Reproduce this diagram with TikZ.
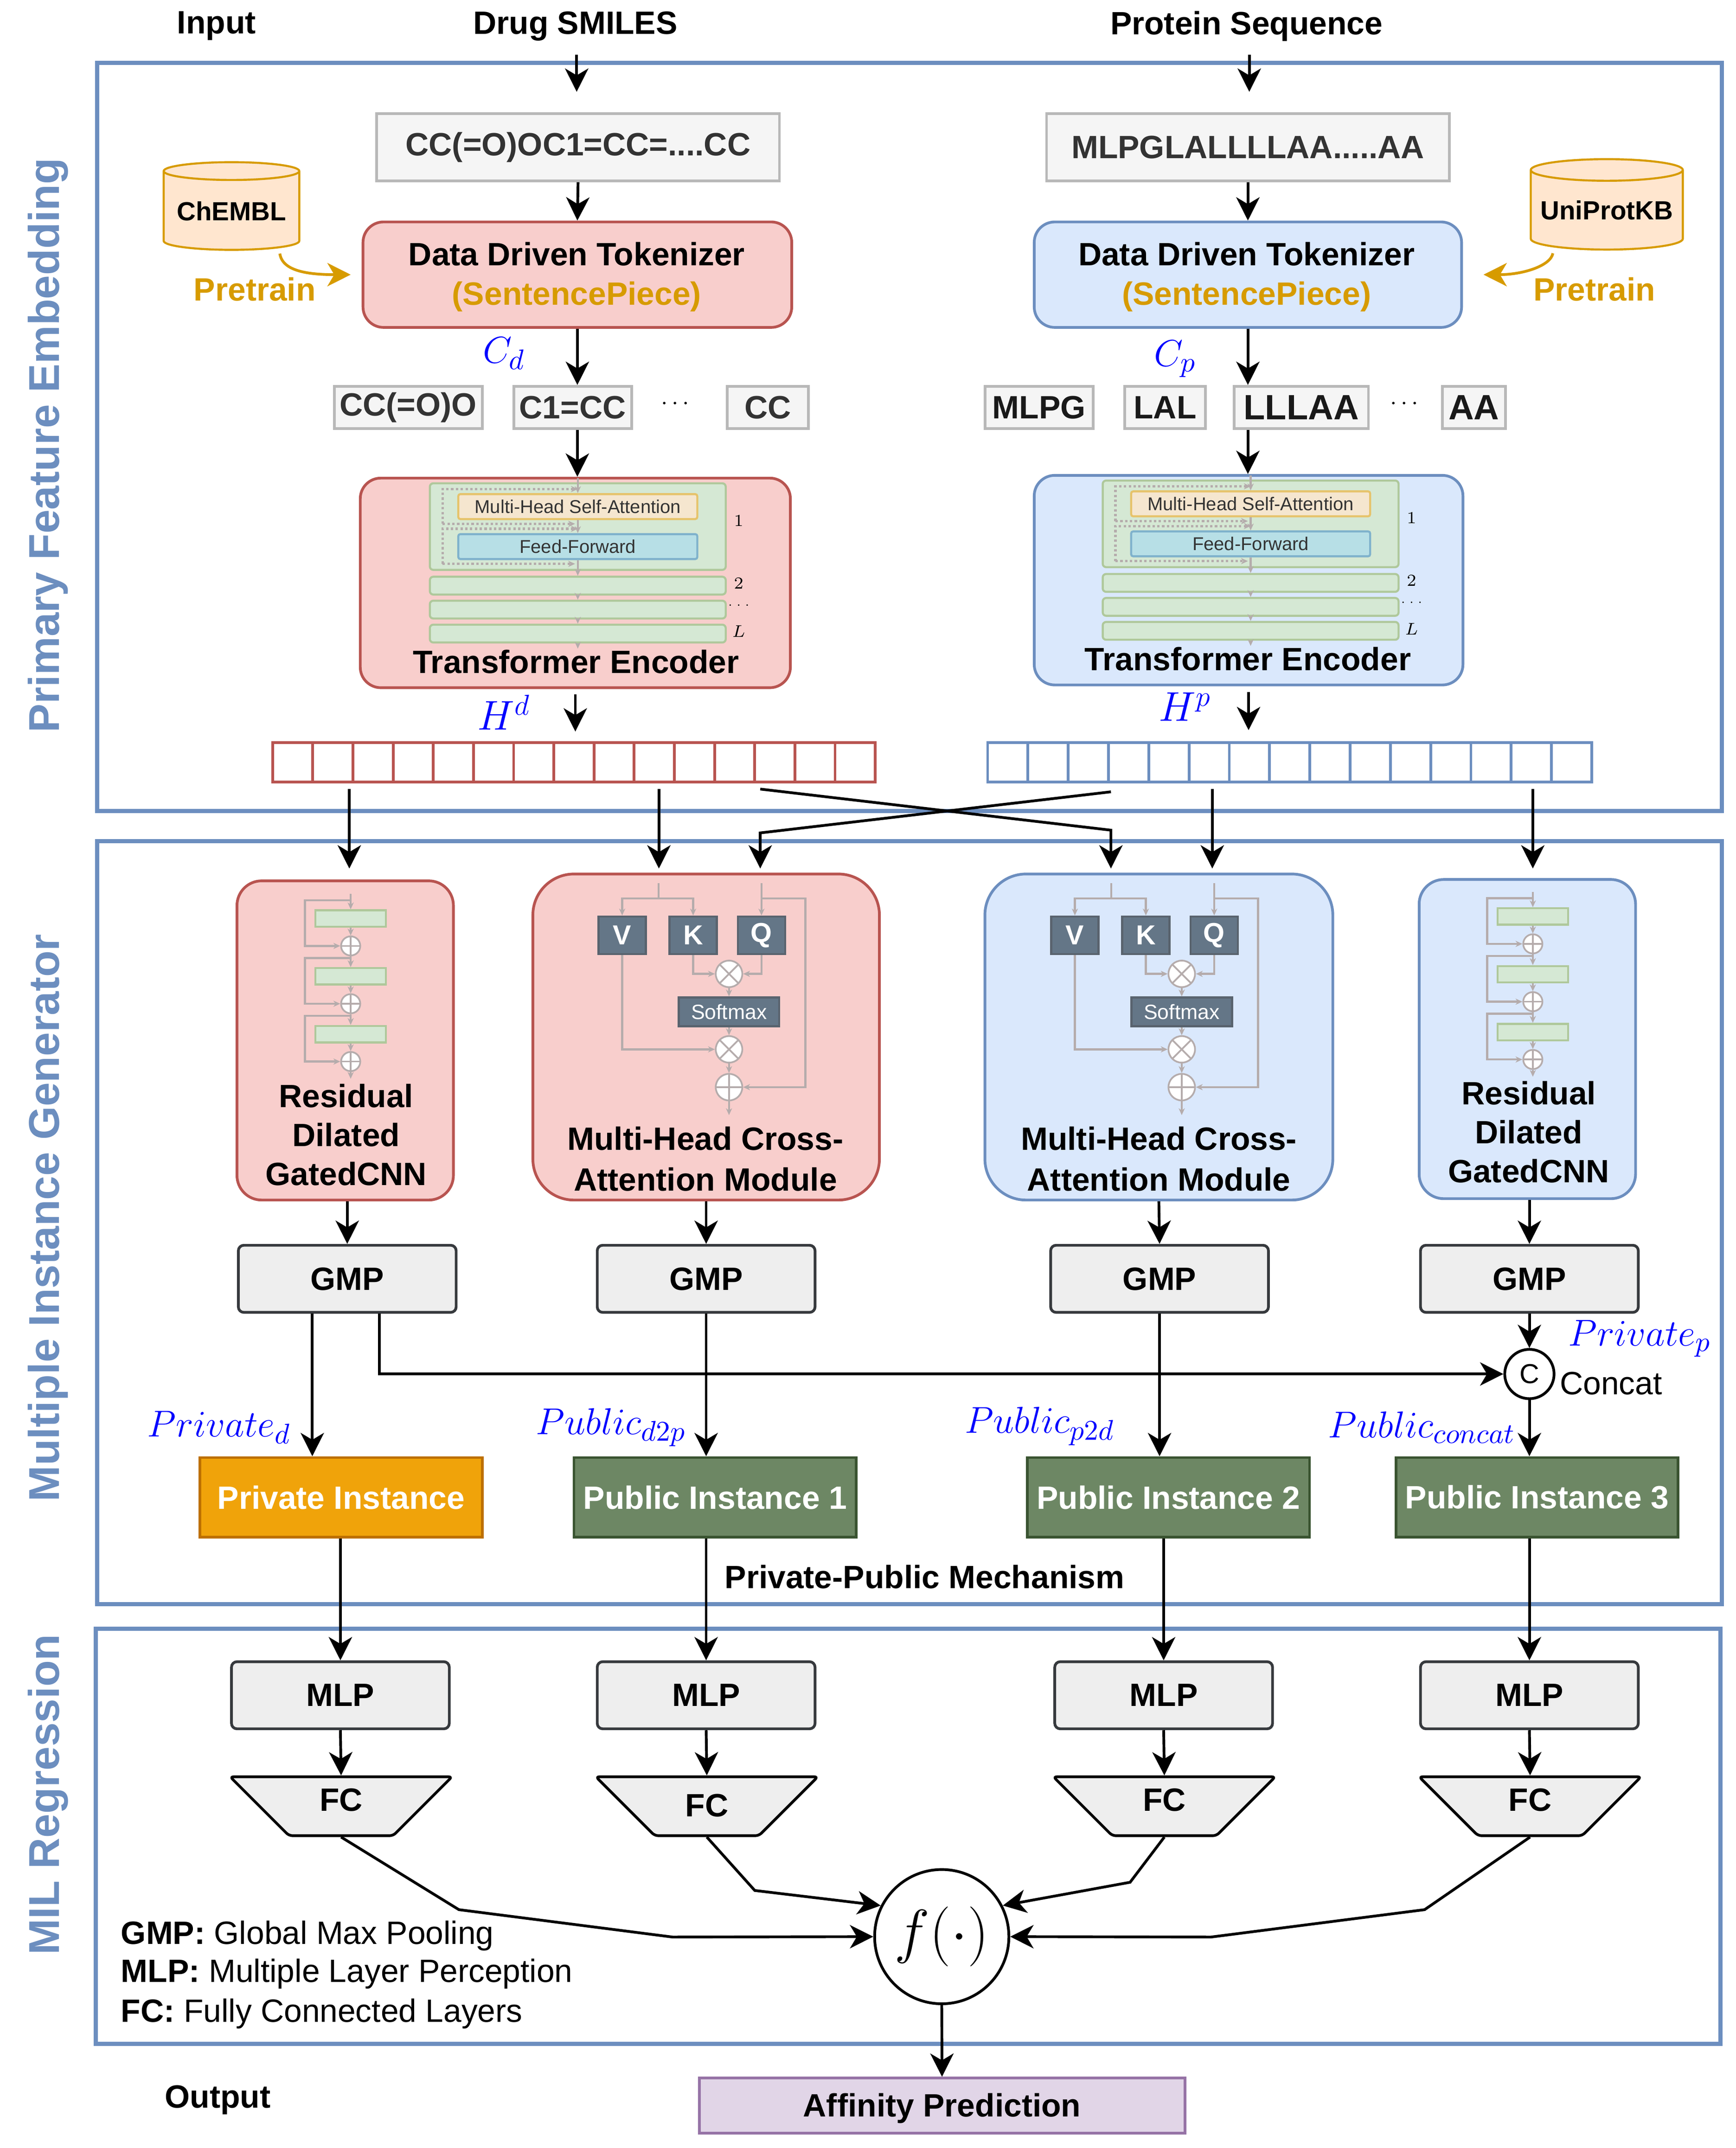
\documentclass[tikz,border=0pt]{standalone}
\usepackage{fontspec}
\setmainfont{Liberation Sans}
\usetikzlibrary{arrows.meta,shapes.geometric}
\newdimen\un \un=0.02cm
\newcommand{\symb}[1]{\scalebox{1.08}{$#1$}}
\definecolor{redF}{HTML}{F8CECC}\definecolor{redD}{HTML}{B85450}
\definecolor{bluF}{HTML}{DAE8FC}\definecolor{bluD}{HTML}{6C8EBF}
\definecolor{orF}{HTML}{FFE6CF}\definecolor{orD}{HTML}{D79B00}
\definecolor{gryF}{HTML}{EEEEEE}\definecolor{gryD}{HTML}{36393D}
\definecolor{tokF}{HTML}{F5F5F5}\definecolor{tokD}{HTML}{B8B8B8}
\definecolor{slateF}{HTML}{647687}\definecolor{slateD}{HTML}{314354}
\definecolor{pubF}{HTML}{6D8764}\definecolor{pubD}{HTML}{3A5431}
\definecolor{priF}{HTML}{F0A30A}\definecolor{priD}{HTML}{BD7000}
\definecolor{affF}{HTML}{E1D5E7}\definecolor{affD}{HTML}{9673A6}
\definecolor{layF}{HTML}{D5E8D4}\definecolor{layD}{HTML}{AFC89B}
\definecolor{msaF}{HTML}{F5E6CF}\definecolor{msaD}{HTML}{E6C36B}
\definecolor{ffF}{HTML}{B7DFE6}\definecolor{ffD}{HTML}{7FB2CC}
\definecolor{inLn}{HTML}{B5ACAC}
\tikzset{
	lbl/.style={font=\bfseries\fontsize{13.4}{16.8}\selectfont, align=center, text=black, inner sep=0pt},
	thin lbl/.style={font=\fontsize{13.4}{16.8}\selectfont, inner sep=0pt, align=left},
	sym/.style={font=\fontsize{15}{18}\selectfont, text=blue, inner sep=0pt},
	side/.style={font=\bfseries\fontsize{17.9}{20}\selectfont, text=bluD, rotate=90, inner sep=0pt},
	panel/.style={draw=bluD, line width=0.06cm},
	arr/.style={-{Stealth[length=0.34cm,width=0.34cm,inset=0.1cm]}, line width=0.04cm, black},
	arrOr/.style={draw=orD, line width=0.04cm, -{Stealth[length=0.34cm,width=0.34cm,inset=0.1cm,orD]}},
	seq/.style={lbl, draw=tokD, fill=tokF, line width=0.04cm, text=black!80, minimum height=49\un},
	tok/.style={seq, minimum height=31\un},
	tokB/.style={tok, text=black!90},
	blk/.style={rounded corners=0.3cm, line width=0.04cm},
	redB/.style={blk, draw=redD, fill=redF},
	bluB/.style={blk, draw=bluD, fill=bluF},
	gmp/.style={lbl, draw=gryD, fill=gryF, line width=0.04cm, rounded corners=0.08cm, minimum width=159\un, minimum height=49\un},
	fc/.style={lbl, trapezium, trapezium left angle=135, trapezium right angle=135, trapezium stretches body=true, draw=black, fill=gryF, line width=0.04cm, rounded corners=0.05cm, minimum width=162\un, text height=25\un, text depth=18\un},
	fcLow/.style={fc, text height=29\un, text depth=14\un},
	inst/.style={lbl, text=white, line width=0.04cm, minimum width=206\un, minimum height=58\un},
	pri/.style={inst, draw=priD, fill=priF},
	pub/.style={inst, draw=pubD, fill=pubF},
	store/.style={lbl, cylinder, shape border rotate=90, aspect=0.163, draw=orD, fill=orF, cylinder uses custom fill, cylinder body fill=orF, cylinder end fill=orF, line width=0.03cm, font=\bfseries\fontsize{10.9}{14}\selectfont},
	inln/.style={draw=inLn, line width=0.03cm, -{Stealth[length=0.1cm,width=0.09cm,inLn]}},
	inpl/.style={draw=inLn, line width=0.03cm},
	dotl/.style={draw=inLn, line width=0.035cm, densely dotted, -{Stealth[length=0.1cm,width=0.09cm,inLn]}},
	lay/.style={draw=layD, fill=layF, line width=0.03cm, rounded corners=0.05cm, inner sep=0pt},
	oplus/.style={circle, draw=inLn, fill=white, line width=0.025cm, inner sep=0pt, path picture={\draw[inLn, line width=0.025cm] (path picture bounding box.west) -- (path picture bounding box.east) (path picture bounding box.north) -- (path picture bounding box.south);}},
	otimes/.style={circle, draw=inLn, fill=white, line width=0.025cm, inner sep=0pt, path picture={\draw[inLn, line width=0.025cm] (path picture bounding box.north west) -- (path picture bounding box.south east) (path picture bounding box.north east) -- (path picture bounding box.south west);}},
	slate/.style={draw=slateD!70!inLn, fill=slateF, line width=0.03cm, text=white, font=\bfseries\fontsize{11.4}{14}\selectfont, inner sep=0pt, minimum width=34.6\un, minimum height=27.4\un},
	encoder/.pic={
		\node[lay, minimum width=216\un, minimum height=63.2\un] (big) at (0,35.4) {};
		\node[draw=msaD, fill=msaF, line width=0.03cm, rounded corners=0.03cm, inner sep=0pt, minimum width=174.5\un, minimum height=18.2\un, font=\fontsize{7.7}{9}\selectfont, text=black!80] (msa) at (0,20.8) {Multi-Head Self-Attention};
		\node[draw=ffD, fill=ffF, line width=0.03cm, rounded corners=0.03cm, inner sep=0pt, minimum width=174.5\un, minimum height=18.2\un, font=\fontsize{7.7}{9}\selectfont, text=black!80] (ff) at (0,50) {Feed-Forward};
		\node[lay, minimum width=216\un, minimum height=13\un] (layB) at (0,78.5) {};
		\node[lay, minimum width=216\un, minimum height=13\un] (layC) at (0,96) {};
		\node[lay, minimum width=216\un, minimum height=13\un] (layD) at (0,113.5) {};
		\node[font=\fontsize{7}{8}\selectfont, inner sep=0pt] (numA) at (117.5,31) {$1$};
		\node[font=\fontsize{7}{8}\selectfont, inner sep=0pt] (numB) at (117.5,77) {$2$};
		\node[font=\fontsize{5}{6}\selectfont, inner sep=0pt] (numC) at (117.5,93) {$\cdots$};
		\node[font=\fontsize{7}{8}\selectfont, inner sep=0pt] (numD) at (117.5,112) {$L$};
		\coordinate (in) at (0,0);
		\coordinate (out) at (0,124.5);
		\draw[inln] (in) -- (msa);
		\draw[inln] (msa) -- (ff);
		\draw[inln] (ff) -- (layB);
		\draw[inln] (layB) -- (layC);
		\draw[inln] (layC) -- (layD);
		\draw[inln] (layD) -- (out);
		\draw[dotl] (-98.7,33.4) -- (-98.7,8) -- (0,8);
		\draw[dotl] (-98.7,33.4) -- (-2,33.4);
		\draw[dotl] (-98.7,62.6) -- (-98.7,37) -- (0,37);
		\draw[dotl] (-98.7,62.6) -- (-2,62.6);
	},
	rescnn/.pic={
		\foreach \k in {0,1,2}{
			\begin{scope}[shift={(0,{42.2*\k})}]
				\node[draw=layD, fill=layF, line width=0.03cm, inner sep=0pt, minimum width=51.5\un, minimum height=12\un] (cnn\k) at (0,18) {};
				\node[oplus, minimum size=14\un] (add\k) at (0,38) {};
				\coordinate (tap\k) at (0,4.6);
				\draw[inln] (cnn\k) -- (add\k);
				\draw[inln] (tap\k) -- ++(-33.4,0) |- (add\k);
			\end{scope}
		}
		\coordinate (in) at (0,0);
		\coordinate (out) at (0,135);
		\draw[inln] (in) -- (cnn0);
		\draw[inln] (add0) -- (cnn1);
		\draw[inln] (add1) -- (cnn2);
		\draw[inln] (add2) -- (out);
	},
	crossatt/.pic={
		\node[slate] (v) at (-26.5,38.1) {V};
		\node[slate] (k) at (25.3,38.1) {K};
		\node[slate] (q) at (75.2,38.1) {Q};
		\node[otimes, minimum size=19.4\un] (mulA) at (51.5,66.3) {};
		\node[slate, minimum width=73.4\un, minimum height=21\un, font=\fontsize{8.6}{10}\selectfont] (soft) at (51.5,94) {Softmax};
		\node[otimes, minimum size=19.4\un] (mulB) at (51.5,121.4) {};
		\node[oplus, minimum size=19.4\un] (add) at (51.5,149) {};
		\coordinate (inA) at (0,0);
		\coordinate (inB) at (75.2,0);
		\coordinate (out) at (51.5,169.4);
		\draw[inpl] (inA) -- (0,11.3);
		\draw[inln] (0,11.3) -| (v);
		\draw[inln] (0,11.3) -| (k);
		\draw[inln] (inB) -- (q);
		\draw[inln] (75.2,11.3) -- (107.2,11.3) |- (add);
		\draw[inln] (k) |- (mulA);
		\draw[inln] (q) |- (mulA);
		\draw[inln] (mulA) -- (soft);
		\draw[inln] (soft) -- (mulB);
		\draw[inln] (v) |- (mulB);
		\draw[inln] (mulB) -- (add);
		\draw[inln] (add) -- (out);
	}
}
\begin{document}
\begin{tikzpicture}[x=0.02cm, y=-0.02cm]
	\useasboundingbox (0,0) rectangle (1267,1568);
	%
	\node[lbl] (input) at (158,19) {Input};
	\node[lbl] (drug) at (420,19) {Drug SMILES};
	\node[lbl] (prot) at (910,19) {Protein Sequence};
	\node[lbl] (output) at (159,1533) {Output};
	\draw[panel] (71,46) rectangle (1257,592);
	\draw[panel] (71,614) rectangle (1257,1171);
	\draw[panel] (70,1189) rectangle (1256,1492);
	\node[side] (sideA) at (35,325) {Primary Feature Embedding};
	\node[side] (sideB) at (35,889) {Multiple Instance Generator};
	\node[side] (sideC) at (35,1310) {MIL Regression};
	%
	\node[seq, minimum width=294\un] (smiles) at (422,107.5) {CC(=O)OC1=CC=....CC};
	\node[seq, minimum width=294\un] (seqP) at (911,107.5) {MLPGLALLLLAA.....AA};
	\node[redB, minimum width=313\un, minimum height=77\un] (tokrD) at (421.5,200.5) {};
	\node[bluB, minimum width=312\un, minimum height=77\un] (tokrP) at (911,200.5) {};
	\node[lbl, font=\bfseries\fontsize{13.4}{16.4}\selectfont] (tokrDt) at (421,202) {Data Driven Tokenizer\\\textcolor{orD}{(SentencePiece)}};
	\node[lbl, font=\bfseries\fontsize{13.4}{16.4}\selectfont] (tokrPt) at (910,202) {Data Driven Tokenizer\\\textcolor{orD}{(SentencePiece)}};
	\node[store, minimum width=99\un, minimum height=64\un] (chembl) at (169,154) {ChEMBL};
	\node[store, minimum width=111\un, minimum height=66\un] (uni) at (1173,153.5) {UniProtKB};
	\node[lbl, text=orD] (preA) at (186,211) {Pretrain};
	\node[lbl, text=orD] (preB) at (1164,211) {Pretrain};
	\node[tok, minimum width=108\un] (tA) at (298,297.5) {CC(=O)O};
	\node[tok, minimum width=86\un] (tB) at (418,297.5) {C1=CC};
	\node[inner sep=0pt] (tC) at (493,295) {$\cdots$};
	\node[tok, minimum width=59\un] (tD) at (560.5,297.5) {CC};
	\node[tokB, minimum width=79\un] (pA) at (758.5,297.5) {MLPG};
	\node[tokB, minimum width=59\un] (pB) at (850.5,297.5) {LAL};
	\node[tokB, minimum width=98\un, font=\bfseries\fontsize{14.6}{17}\selectfont] (pC) at (950,297.5) {LLLAA};
	\node[inner sep=0pt] (pD) at (1025,295) {$\cdots$};
	\node[tokB, minimum width=46\un, font=\bfseries\fontsize{14.6}{17}\selectfont] (pE) at (1076,297.5) {AA};
	\node[sym] (cd) at (368,258) {\symb{C_d}};
	\node[sym] (cp) at (858,262) {\symb{C_p}};
	%
	\node[redB, minimum width=314\un, minimum height=153\un] (encD) at (420,425.5) {};
	\node[bluB, minimum width=313\un, minimum height=153\un] (encP) at (911.5,423.5) {};
	\pic (ed) at (421.8,349) {encoder};
	\pic (ep) at (913,347) {encoder};
	\node[lbl] (encDt) at (420.5,483) {Transformer Encoder};
	\node[lbl] (encPt) at (911,481) {Transformer Encoder};
	\node[sym, font=\fontsize{17}{20}\selectfont] (hd) at (368,520) {$H^d$};
	\node[sym, font=\fontsize{17}{20}\selectfont] (hp) at (865,516) {$H^p$};
	\foreach \i in {1,...,15}{
		\node[draw=redD, fill=white, line width=0.04cm, inner sep=0pt, minimum width=29.33\un, minimum height=29\un] (vd\i) at ({199+29.33*(\i-0.5)},556.5) {};
		\node[draw=bluD, fill=white, line width=0.04cm, inner sep=0pt, minimum width=29.4\un, minimum height=29\un] (vp\i) at ({721+29.4*(\i-0.5)},556.5) {};
	}
	%
	\coordinate (inD) at (421,40);
	\coordinate (inP) at (912,40);
	\draw[arr, shorten >=15\un] (inD) -- (inD |- smiles.north);
	\draw[arr, shorten >=15\un] (inP) -- (inP |- seqP.north);
	\draw[arr] (smiles.south) -- (tokrD.north);
	\draw[arr] (seqP.south) -- (tokrP.north);
	\draw[arrOr, shorten <=2\un, shorten >=8\un] ([xshift=35\un]chembl.south) .. controls (206,197) and (222,200.5) .. (tokrD.west);
	\draw[arrOr, shorten <=2\un, shorten >=15\un] ([xshift=-39\un]uni.south) .. controls (1132,194) and (1112,200.5) .. (tokrP.east);
	\draw[arr] (tokrD.south) -- (tokrD.south |- tB.north);
	\draw[arr] (tokrP.south) -- (tokrP.south |- pB.north);
	\draw[arr] (tokrD.south |- tB.south) -- (tokrD.south |- encD.north);
	\draw[arr] (tokrP.south |- pB.south) -- (tokrP.south |- encP.north);
	\draw[arr, shorten <=4\un, shorten >=7\un] (encD.south) -- (encD.south |- vd8.north);
	\draw[arr, shorten <=4\un, shorten >=8\un] (encP.south) -- (encP.south |- vp7.north);
	%
	\node[redB, rounded corners=0.36cm, minimum width=158\un, minimum height=233\un] (resD) at (252,759.5) {};
	\node[redB, rounded corners=0.6cm, minimum width=253\un, minimum height=238\un] (crsD) at (515.5,757) {};
	\node[bluB, rounded corners=0.6cm, minimum width=254\un, minimum height=238\un] (crsP) at (846,757) {};
	\node[bluB, rounded corners=0.36cm, minimum width=158\un, minimum height=233\un] (resP) at (1115,758.5) {};
	\pic (rd) at (256,652.5) {rescnn};
	\pic (rp) at (1119,651) {rescnn};
	\pic (cd) at (480.7,644.6) {crossatt};
	\pic (cp) at (811.2,644.6) {crossatt};
	\node[lbl, font=\bfseries\fontsize{13.4}{16.2}\selectfont] (resDt) at (252.7,828.5) {Residual\\Dilated\\GatedCNN};
	\node[lbl, font=\bfseries\fontsize{13.4}{16.2}\selectfont] (resPt) at (1116,826.5) {Residual\\Dilated\\GatedCNN};
	\node[lbl] (crsDt) at (515,846) {Multi-Head Cross-\\Attention Module};
	\node[lbl] (crsPt) at (846,846) {Multi-Head Cross-\\Attention Module};
	%
	\coordinate (oA) at (255,576); \coordinate (iA) at (255,634);
	\coordinate (oB) at (481,576); \coordinate (iB) at (481,634);
	\coordinate (oC) at (555,576); \coordinate (iC) at (555,634);
	\coordinate (oD) at (811,578); \coordinate (iD) at (811,634);
	\coordinate (oE) at (885,576); \coordinate (iE) at (885,634);
	\coordinate (oF) at (1119,576); \coordinate (iF) at (1119,634);
	\draw[arr] (oA) -- (iA);
	\draw[arr] (oB) -- (iB);
	\draw[arr] (oC) -- (811,606) -- (iD);
	\draw[arr] (oD) -- (555,608) -- (iC);
	\draw[arr] (oE) -- (iE);
	\draw[arr] (oF) -- (iF);
	%
	\node[gmp] (gA) at (253.5,933.5) {GMP};
	\node[gmp] (gB) at (515.5,933.5) {GMP};
	\node[gmp] (gC) at (846.5,933.5) {GMP};
	\node[gmp] (gD) at (1116.5,933.5) {GMP};
	\draw[arr] (gA.north |- resD.south) -- (gA.north);
	\draw[arr] (crsD.south) -- (gB.north);
	\draw[arr] (crsP.south) -- (gC.north);
	\draw[arr] (gD.north |- resP.south) -- (gD.north);
	\node[circle, draw=black, fill=white, line width=0.04cm, inner sep=0pt, minimum size=36\un, font=\fontsize{11.4}{14}\selectfont] (cc) at (1116.5,1003) {C};
	\node[thin lbl] (ccT) at (1176,1010) {Concat};
	\node[pri] (insA) at (249,1093) {Private Instance};
	\node[pub] (insB) at (522,1093) {Public Instance 1};
	\node[pub] (insC) at (853,1093) {Public Instance 2};
	\node[pub] (insD) at (1122,1093) {Public Instance 3};
	\node[lbl] (mech) at (675,1151) {Private-Public Mechanism};
	\draw[arr] ([xshift=-25.5\un]gA.south) -- ([xshift=-21\un]insA.north);
	\draw[arr] ([xshift=23.5\un]gA.south) |- (cc);
	\draw[arr] (gB.south) -- (gB.south |- insB.north);
	\draw[arr] (gC.south) -- (gC.south |- insC.north);
	\draw[arr] (gD.south) -- (cc.north);
	\draw[arr] (cc.south) -- (cc.south |- insD.north);
	\node[sym] (prd) at (160,1042) {\symb{Private_d}};
	\node[sym] (pud) at (446,1042) {\symb{Public_{d2p}}};
	\node[sym] (pup) at (759,1041) {\symb{Public_{p2d}}};
	\node[sym] (puc) at (1038,1042) {\symb{Public_{concat}}};
	\node[sym] (prp) at (1197,977) {\symb{Private_p}};
	%
	\node[gmp] (mA) at (248.5,1237.5) {MLP};
	\node[gmp] (mB) at (515.5,1237.5) {MLP};
	\node[gmp] (mC) at (849.5,1237.5) {MLP};
	\node[gmp] (mD) at (1116.5,1237.5) {MLP};
	\node[fc] (fA) at (249,1318.5) {FC};
	\node[fcLow] (fB) at (516,1318.5) {FC};
	\node[fc] (fC) at (850,1318.5) {FC};
	\node[fc] (fD) at (1117,1318.5) {FC};
	\draw[arr] (mA.north |- insA.south) -- (mA.north);
	\draw[arr] (mB.north |- insB.south) -- (mB.north);
	\draw[arr] (mC.north |- insC.south) -- (mC.north);
	\draw[arr] (mD.north |- insD.south) -- (mD.north);
	\draw[arr] (mA.south) -- (fA.north);
	\draw[arr] (mB.south) -- (fB.north);
	\draw[arr] (mC.south) -- (fC.north);
	\draw[arr] (mD.south) -- (fD.north);
	\node[circle, draw=black, fill=white, line width=0.04cm, inner sep=0pt, minimum size=98\un, font=\fontsize{23}{27}\selectfont] (fn) at (687.5,1413.7) {$f(\cdot)$};
	\node[draw=affD, fill=affF, lbl, line width=0.04cm, minimum width=354.5\un, minimum height=40\un, text height=16\un, text depth=0pt] (aff) at (687.7,1537) {Affinity Prediction};
	\draw[arr] (fA.south) -- (335,1394) -- (491,1414) -- (fn.west);
	\draw[arr] (fB.south) -- (551,1380) -- (fn.153.5);
	\draw[arr] (fC.south) -- (825,1374) -- (fn.27.5);
	\draw[arr] (fD.south) -- (1040,1394) -- (884,1414) -- (fn.east);
	\draw[arr] (fn.south) -- (aff.north);
	\node[thin lbl, anchor=west] (lgA) at (88,1413) {\textbf{GMP:} Global Max Pooling};
	\node[thin lbl, anchor=west] (lgB) at (88,1441) {\textbf{MLP:} Multiple Layer Perception};
	\node[thin lbl, anchor=west] (lgC) at (88,1470) {\textbf{FC:} Fully Connected Layers};
\end{tikzpicture}
\end{document}
